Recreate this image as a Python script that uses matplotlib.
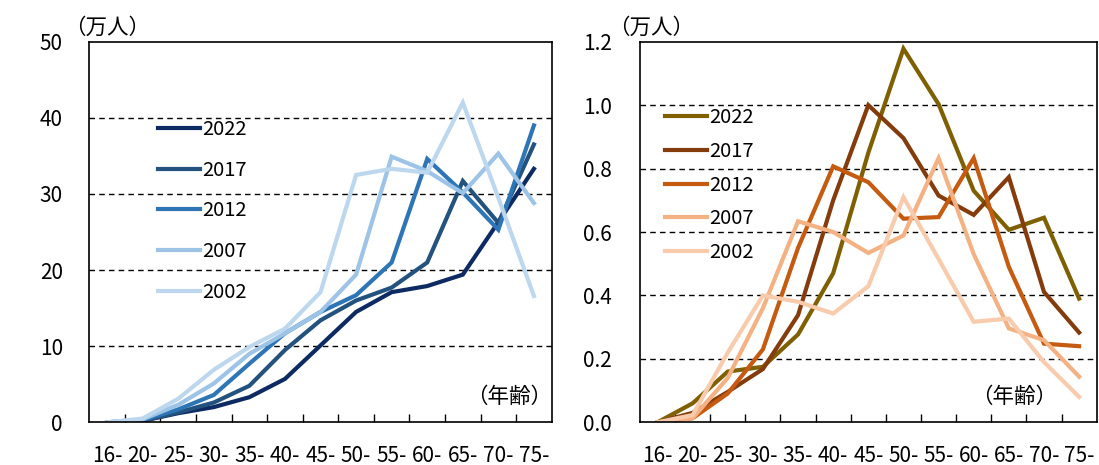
import numpy as np
import matplotlib
matplotlib.use('Agg')
import matplotlib.pyplot as plt

plt.rcParams['font.family'] = ['Noto Sans CJK JP', 'DejaVu Sans']

# 年齢階級
ages = ['16-', '20-', '25-', '30-', '35-', '40-', '45-', '50-', '55-', '60-', '65-', '70-', '75-']
years = ['2022', '2017', '2012', '2007', '2002']

# 左図（万人）
left_2022 = [0.0, 0.2, 1.2, 2.0, 3.3, 5.7, 10.1, 14.5, 17.1, 17.9, 19.4, 26.3, 33.3]
left_2017 = [0.0, 0.2, 1.3, 2.6, 4.8, 9.5, 13.4, 16.0, 17.7, 21.0, 31.7, 26.2, 36.5]
left_2012 = [0.0, 0.3, 1.7, 3.6, 7.7, 11.7, 14.5, 16.7, 21.0, 34.6, 30.2, 25.3, 39.0]
left_2007 = [0.0, 0.4, 2.3, 5.1, 9.0, 11.7, 14.5, 19.4, 34.9, 33.0, 30.1, 35.3, 28.8]
left_2002 = [0.0, 0.5, 3.1, 6.9, 9.9, 12.3, 17.1, 32.5, 33.3, 32.8, 42.0, 29.5, 16.6]

# 右図（万人）
right_2022 = [0.0, 0.06, 0.16, 0.175, 0.277, 0.47, 0.85, 1.178, 1.003, 0.73, 0.607, 0.645, 0.39]
right_2017 = [0.0, 0.03, 0.096, 0.168, 0.338, 0.70, 1.0, 0.896, 0.715, 0.654, 0.773, 0.411, 0.283]
right_2012 = [0.0, 0.013, 0.091, 0.23, 0.55, 0.807, 0.757, 0.642, 0.647, 0.833, 0.49, 0.248, 0.24]
right_2007 = [0.0, 0.013, 0.14, 0.36, 0.634, 0.60, 0.534, 0.589, 0.833, 0.53, 0.296, 0.259, 0.144]
right_2002 = [0.0, 0.023, 0.22, 0.40, 0.38, 0.343, 0.429, 0.71, 0.515, 0.317, 0.327, 0.19, 0.08]

left_colors = ['#0e2a62', '#24527f', '#2e75b6', '#9dc3e6', '#bdd7ee']
right_colors = ['#7f6000', '#843c0c', '#c55a11', '#f4b183', '#f8cbad']

fig = plt.figure(figsize=(10.99, 4.65), dpi=100)
ax1 = fig.add_axes([0.0813, 0.0918, 0.4207, 0.8185])
ax2 = fig.add_axes([0.5823, 0.0918, 0.4156, 0.8185])

x = np.arange(len(ages))


def setup(ax, series, colors, ymax, yticks, ylabels, ypad, legend_pos, spacing):
    for vals, c, lab in zip(series, colors, years):
        ax.plot(x, vals, color=c, lw=3.0, label=lab, solid_joinstyle='miter')
    ax.set_xlim(-0.5, len(ages) - 0.5)
    ax.set_ylim(0, ymax)
    # 破線の目盛線（上端は枠線）
    for t in yticks[1:-1]:
        ax.axhline(t, color='black', lw=1.0, ls=(0, (4, 3)), zorder=0)
    ax.set_yticks(yticks)
    ax.set_yticklabels(ylabels, fontsize=15)
    ax.tick_params(axis='y', length=0, pad=ypad)
    ax.set_xticks(x)
    ax.set_xticklabels(ages, fontsize=15)
    ax.tick_params(axis='x', which='major', length=0, pad=16)
    # 区切りの目盛は階級の境目に内向き
    ax.set_xticks(np.arange(0.5, len(ages) - 1), minor=True)
    ax.tick_params(axis='x', which='minor', direction='in', length=6, width=1)
    for s in ax.spines.values():
        s.set_linewidth(1.2)
    ax.legend(loc='upper left', bbox_to_anchor=legend_pos, frameon=False,
              fontsize=14.5, handlelength=2.1, handletextpad=0.1,
              labelspacing=spacing, borderaxespad=0, borderpad=0)


setup(ax1, [left_2022, left_2017, left_2012, left_2007, left_2002], left_colors,
      50, [0, 10, 20, 30, 40, 50], ['0', '10', '20', '30', '40', '50'], 19,
      (0.1486, 0.797), 0.98)
setup(ax2, [right_2022, right_2017, right_2012, right_2007, right_2002], right_colors,
      1.2, [0, 0.2, 0.4, 0.6, 0.8, 1.0, 1.2],
      ['0.0', '0.2', '0.4', '0.6', '0.8', '1.0', '1.2'], 20,
      (0.0547, 0.828), 0.63)

fig.text(0.058, 0.94, '（万人）', fontsize=15.5, va='center')
fig.text(0.553, 0.94, '（万人）', fontsize=15.5, va='center')
ax1.text(1.0, 0.066, '（年齢）', transform=ax1.transAxes, fontsize=15.5,
         ha='right', va='center')
ax2.text(0.913, 0.066, '（年齢）', transform=ax2.transAxes, fontsize=15.5,
         ha='right', va='center')

fig.savefig('out.png', dpi=100)
